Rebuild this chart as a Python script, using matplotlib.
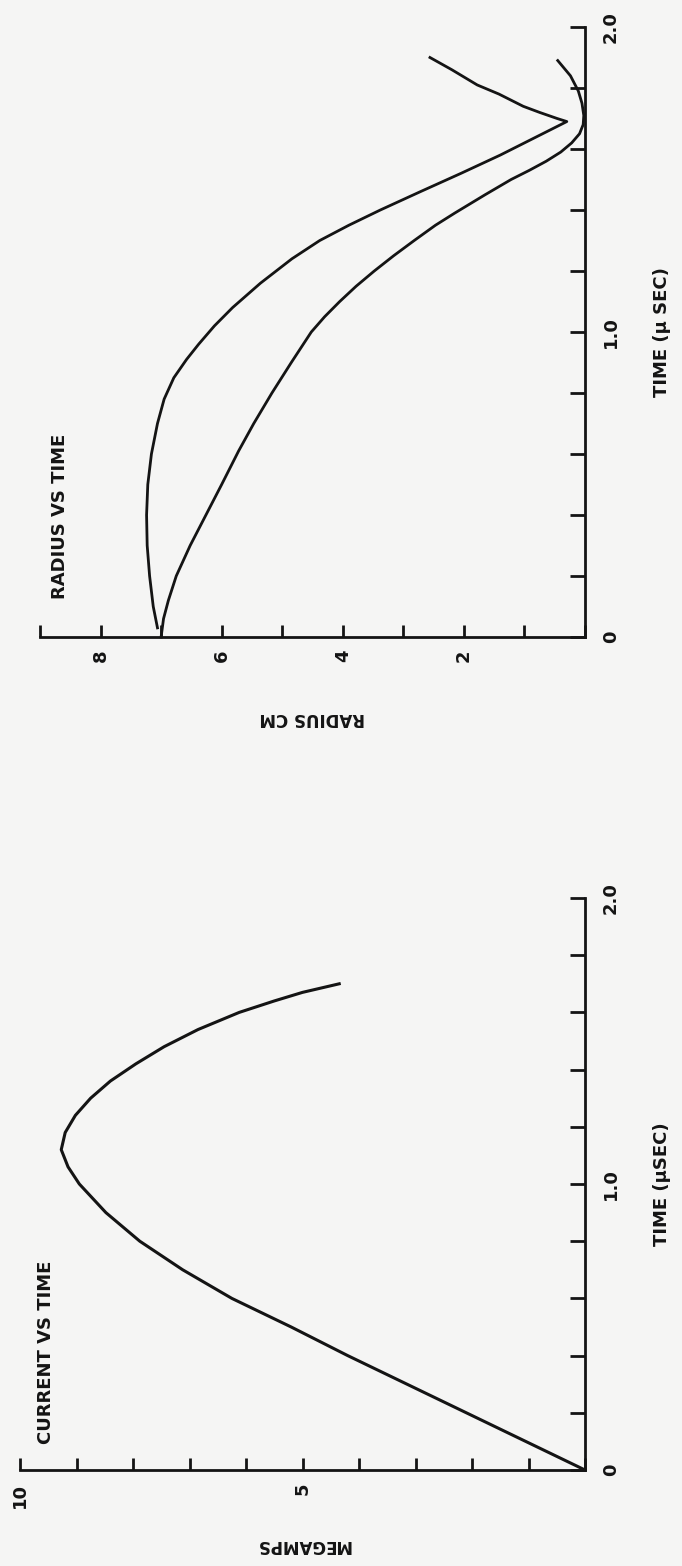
import numpy as np
import matplotlib
matplotlib.use("Agg")
import matplotlib.pyplot as plt

# ---- data (time in microseconds) ----

# radius vs time, outer curve (cm)
radius_a_time = [0.03, 0.10, 0.20, 0.30, 0.40, 0.50, 0.60, 0.70, 0.78, 0.85,
                 0.91, 0.96, 1.02, 1.08, 1.16, 1.24, 1.30, 1.35, 1.40, 1.46,
                 1.52, 1.58, 1.64, 1.69, 1.70, 1.72, 1.74, 1.78, 1.81, 1.86,
                 1.90]
radius_a = [7.06, 7.13, 7.19, 7.23, 7.24, 7.22, 7.16, 7.06, 6.95, 6.79,
            6.58, 6.38, 6.12, 5.82, 5.36, 4.84, 4.38, 3.90, 3.38, 2.72,
            2.05, 1.40, 0.80, 0.30, 0.46, 0.75, 1.02, 1.42, 1.78, 2.20,
            2.56]

# radius vs time, inner curve (cm)
radius_b_time = [0.0, 0.06, 0.12, 0.20, 0.30, 0.40, 0.50, 0.61, 0.70, 0.80,
                 0.90, 1.00, 1.05, 1.10, 1.15, 1.20, 1.25, 1.30, 1.35, 1.39,
                 1.45, 1.50, 1.53, 1.56, 1.59, 1.62, 1.65, 1.68, 1.71, 1.75,
                 1.79, 1.84, 1.89]
radius_b = [7.00, 6.96, 6.88, 6.75, 6.52, 6.26, 6.00, 5.72, 5.47, 5.17,
            4.85, 4.52, 4.30, 4.05, 3.78, 3.48, 3.16, 2.82, 2.47, 2.15,
            1.65, 1.22, 0.92, 0.64, 0.40, 0.22, 0.09, 0.03, 0.02, 0.05,
            0.11, 0.24, 0.45]

# current vs time (megamps)
current_time = [0.0, 0.10, 0.20, 0.30, 0.40, 0.50, 0.60, 0.70, 0.80, 0.90,
                1.00, 1.06, 1.12, 1.18, 1.24, 1.30, 1.36, 1.42, 1.48, 1.54,
                1.60, 1.64, 1.67, 1.70]
current = [0.0, 1.05, 2.10, 3.15, 4.20, 5.20, 6.25, 7.12, 7.88, 8.48,
           8.95, 9.15, 9.27, 9.20, 9.02, 8.75, 8.40, 7.95, 7.45, 6.85,
           6.12, 5.50, 5.00, 4.35]

time_ticks = [0.0, 0.2, 0.4, 0.6, 0.8, 1.0, 1.2, 1.4, 1.6, 1.8, 2.0]
time_labels = ["0", "", "", "", "", "1.0", "", "", "", "", "2.0"]

radius_ticks = [0, 1, 2, 3, 4, 5, 6, 7, 8, 9]
radius_labels = ["", "", "2", "", "4", "", "6", "", "8", ""]

current_ticks = [0, 1, 2, 3, 4, 5, 6, 7, 8, 9, 10]
current_labels = ["", "", "", "", "", "5", "", "", "", "", "10"]

PAPER = "#f5f5f4"
INK = "#141414"
W, H = 682, 1566

plt.rcParams["font.family"] = ["DejaVu Sans"]
plt.rcParams["font.weight"] = "bold"
plt.rcParams["axes.labelweight"] = "bold"


def px_box(left, right, top, bottom):
    # pixel box on the page -> figure fraction rect
    return [left / W, 1 - bottom / H, (right - left) / W, (bottom - top) / H]


def style_axes(ax, xmax, xticks, xlabels):
    ax.set_facecolor("none")

    ax.set_xlim(xmax, 0)
    ax.set_ylim(0, 2.0)

    for side in ("top", "left"):
        ax.spines[side].set_visible(False)

    for side in ("right", "bottom"):
        ax.spines[side].set_linewidth(2.0)
        ax.spines[side].set_color(INK)

    ax.yaxis.tick_right()

    ax.set_yticks(time_ticks)
    ax.set_yticklabels(time_labels)

    ax.set_xticks(xticks)
    ax.set_xticklabels(xlabels)

    ax.tick_params(
        axis="y",
        direction="in",
        length=11,
        width=2,
        pad=12,
        labelsize=13,
        colors=INK,
        labelrotation=90,
    )

    ax.tick_params(
        axis="x",
        direction="in",
        length=9,
        width=2,
        pad=9,
        labelsize=13,
        colors=INK,
        labelrotation=90,
    )

    for lbl in ax.get_yticklabels():
        lbl.set_va("center")


fig = plt.figure(figsize=(W / 100, H / 100), dpi=100, facecolor=PAPER)

# radius plot (page turned on its side)
ax1 = fig.add_axes(px_box(40, 585, 27, 637))
style_axes(ax1, 9, radius_ticks, radius_labels)

ax1.plot(radius_a, radius_a_time, color=INK, lw=2.0, clip_on=False,
         solid_joinstyle="round")
ax1.plot(radius_b, radius_b_time, color=INK, lw=2.0, clip_on=False,
         solid_joinstyle="round")

ax1.text(0.037, 0.197, "RADIUS VS TIME", transform=ax1.transAxes,
         rotation=90, ha="center", va="center", fontsize=13, color=INK)

ax1.set_xlabel("RADIUS CM", rotation=180, fontsize=12, color=INK)
ax1.xaxis.set_label_coords(0.5, -0.133)
ax1.xaxis.label.set_va("center")

ax1.yaxis.set_label_position("right")
ax1.set_ylabel("TIME (μ SEC)", rotation=90, fontsize=13, color=INK)
ax1.yaxis.set_label_coords(1.141, 0.5)
ax1.yaxis.label.set_va("center")

# current plot
ax2 = fig.add_axes(px_box(20, 585, 898, 1470))
style_axes(ax2, 10, current_ticks, current_labels)

ax2.plot(current, current_time, color=INK, lw=2.2, clip_on=False,
         solid_joinstyle="round")

ax2.text(0.046, 0.206, "CURRENT VS TIME", transform=ax2.transAxes,
         rotation=90, ha="center", va="center", fontsize=13, color=INK)

ax2.set_xlabel("MEGAMPS", rotation=180, fontsize=12, color=INK)
ax2.xaxis.set_label_coords(0.5, -0.131)
ax2.xaxis.label.set_va("center")

ax2.yaxis.set_label_position("right")
ax2.set_ylabel("TIME (μSEC)", rotation=90, fontsize=13, color=INK)
ax2.yaxis.set_label_coords(1.136, 0.5)
ax2.yaxis.label.set_va("center")

fig.savefig("out.png", dpi=100, facecolor=PAPER)
